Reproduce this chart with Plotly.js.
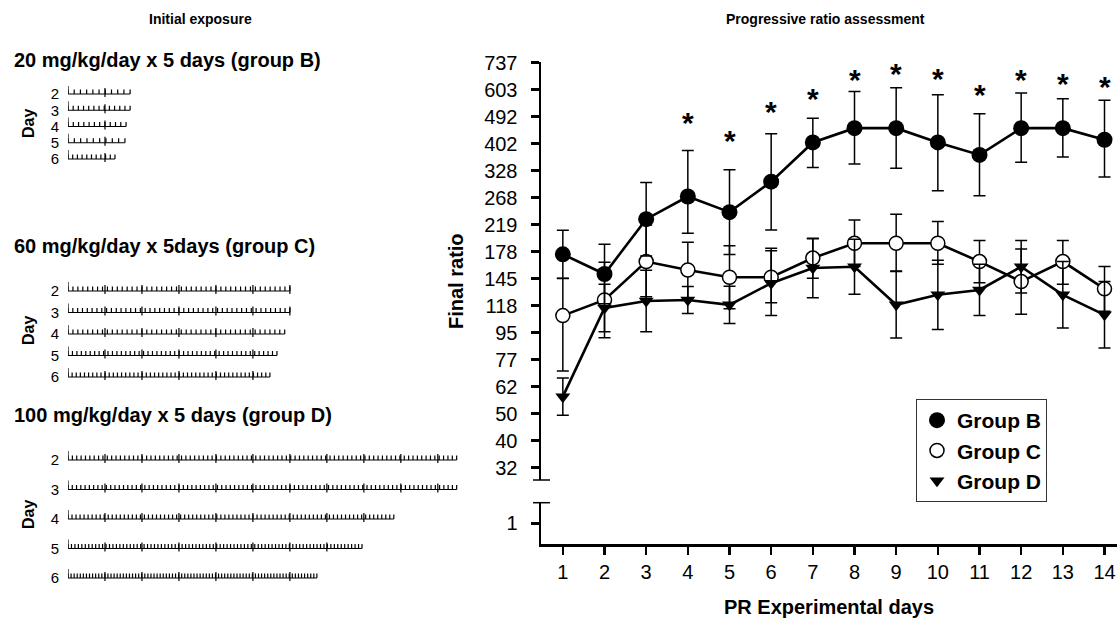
<!DOCTYPE html>
<html><head><meta charset="utf-8">
<script src="https://cdn.plot.ly/plotly-3.0.1.min.js"></script>
<style>html,body{margin:0;padding:0;background:#fff}#chart{width:1117px;height:619px}</style>
</head><body><div id="chart"></div>
<script>
// ---------------- DATA ----------------
// Progressive-ratio assessment: mean final ratio expressed as PR step on the ratio axis
const prDays = [1,2,3,4,5,6,7,8,9,10,11,12,13,14];
const groupBStep      = [17.90,17.17,19.20,20.04,19.46,20.59,22.04,22.57,22.57,22.04,21.58,22.57,22.57,22.14];
const groupBErrPlus   = [0.89,1.10,1.36,1.70,1.57,1.77,0.90,1.36,1.50,1.77,1.52,1.30,1.09,1.46];
const groupBErrMinus  = [0.89,1.10,1.36,1.36,1.57,1.79,0.93,1.33,1.48,1.79,1.51,1.26,1.07,1.38];
const groupCStep      = [15.63,16.21,17.63,17.32,17.05,17.05,17.76,18.31,18.31,18.31,17.63,16.89,17.63,16.62];
const groupCErrPlus   = [1.37,1.40,1.35,1.03,1.17,1.07,0.72,0.86,1.07,0.80,0.78,1.21,0.78,0.83];
const groupCErrMinus  = [2.05,1.40,1.30,1.03,1.17,0.94,0.75,0.86,1.03,0.78,0.78,1.21,0.84,0.83];
const groupDStep      = [12.63,15.91,16.17,16.21,16.03,16.83,17.39,17.44,16.03,16.40,16.58,17.44,16.40,15.66];
const groupDErr       = [0.69,0.88,1.14,0.50,0.69,1.20,1.10,1.02,1.23,1.28,0.95,0.97,1.23,1.23];
const ratioTickSteps  = [10,11,12,13,14,15,16,17,18,19,20,21,22,23,24,25];
const ratioTickLabels = ['32','40','50','62','77','95','118','145','178','219','268','328','402','492','603','737'];
const lowTickSteps    = [1];
const lowTickLabels   = ['1'];
const sigDays         = [4,5,6,7,8,9,10,11,12,13,14];
const sigStarStep     = [22.98,22.29,23.37,23.87,24.54,24.76,24.58,24.01,24.54,24.42,24.30];

// Initial exposure event records (days 2-6): infusions and session length (time-marker units)
const exposureDays      = [2,3,4,5,6];
const exposureDayLabels = ['2','3','4','5','6'];
const groupBInfusions   = [11,13,12,10,11];
const groupBSessionEnd  = [1.68,1.68,1.57,1.54,1.27];
const groupCInfusions   = [46,47,45,48,50];
const groupCSessionEnd  = [6.00,6.00,5.86,5.65,5.46];
const groupDInfusions   = [90,92,82,86,82];
const groupDSessionEnd  = [10.51,10.51,8.81,7.95,6.73];

// ---------------- STYLE / LAYOUT HELPERS ----------------
const FONT = 'Liberation Sans, Arial, sans-serif';
const W = 1117, H = 619;
const px = v => v / W;          // x pixel -> paper
const py = v => 1 - v / H;      // y pixel -> paper

function recordTrace(infusions, ends, pxPerDay, xa, ya) {
  const xs = [], ys = [];
  const small = 4.5 / pxPerDay, start = 9 / pxPerDay, up = 6 / pxPerDay, down = 3 / pxPerDay;
  exposureDays.forEach((d, i) => {
    const end = ends[i], n = infusions[i];
    xs.push(0, end, null); ys.push(d, d, null);
    xs.push(0, 0, null); ys.push(d, d - start, null);
    for (let k = 0; k < n; k++) {
      const t = end * k / (n - 1);
      xs.push(t, t, null); ys.push(d, d - small, null);
    }
    for (let m = 1; m <= end; m++) { xs.push(m, m, null); ys.push(d + down, d - up, null); }
  });
  return {x: xs, y: ys, mode: 'lines', line: {color: 'black', width: 1.2},
          xaxis: xa, yaxis: ya, showlegend: false, hoverinfo: 'skip'};
}

const traces = [];
// empty trace so the lower (broken) axis segment exists
traces.push({x: [], y: [], mode: 'markers', xaxis: 'x', yaxis: 'y2', showlegend: false, hoverinfo: 'skip'});
// connecting lines
[groupBStep, groupCStep, groupDStep].forEach(ys => {
  traces.push({x: prDays, y: ys, mode: 'lines', line: {color: 'black', width: 2.6},
               xaxis: 'x', yaxis: 'y', showlegend: false, hoverinfo: 'skip', cliponaxis: false});
});
const eb = (plus, minus) => ({type: 'data', symmetric: false, array: plus, arrayminus: minus,
                              color: 'black', thickness: 1.5, width: 6});
traces.push({x: prDays, y: groupCStep, mode: 'markers', name: 'Group C', legendrank: 2,
  marker: {symbol: 'circle', size: 14, color: 'white', line: {color: 'black', width: 1.5}},
  error_y: eb(groupCErrPlus, groupCErrMinus), xaxis: 'x', yaxis: 'y', cliponaxis: false});
traces.push({x: prDays, y: groupDStep, mode: 'markers', name: 'Group D', legendrank: 3,
  marker: {symbol: 'triangle-down', size: 13, color: 'black'},
  error_y: eb(groupDErr, groupDErr), xaxis: 'x', yaxis: 'y', cliponaxis: false});
traces.push({x: prDays, y: groupBStep, mode: 'markers', name: 'Group B', legendrank: 1,
  marker: {symbol: 'circle', size: 16, color: 'black'},
  error_y: eb(groupBErrPlus, groupBErrMinus), xaxis: 'x', yaxis: 'y', cliponaxis: false});

// event records
const pxPerDayB = 16.25, pxPerDayC = 21.5, pxPerDayD = 29.5;
traces.push(recordTrace(groupBInfusions, groupBSessionEnd, pxPerDayB, 'x2', 'y3'));
traces.push(recordTrace(groupCInfusions, groupCSessionEnd, pxPerDayC, 'x3', 'y4'));
traces.push(recordTrace(groupDInfusions, groupDSessionEnd, pxPerDayD, 'x4', 'y5'));

const recX = [px(68), px(460)];
const recRange = [0, 10.6];
const dayAxis = (top, bottom, anchor) => ({
  domain: [py(bottom), py(top)], range: [6.5, 1.5], anchor: anchor,
  tickvals: exposureDays, ticktext: exposureDayLabels, ticks: '', showline: false,
  showgrid: false, zeroline: false, tickfont: {family: FONT, size: 15, color: 'black'},
  ticklabelstandoff: 8
});
const recXAxis = anchor => ({domain: recX, range: recRange, anchor: anchor, visible: false});

const axFont = {family: FONT, size: 20, color: 'black'};
const ann = (text, x, y, size, extra) => Object.assign({text: text, xref: 'paper', yref: 'paper',
  x: px(x), y: py(y), xanchor: 'center', yanchor: 'middle', showarrow: false,
  font: {family: FONT, size: size, weight: 'bold', color: 'black'}}, extra || {});

const layout = {
  width: W, height: H,
  margin: {l: 0, r: 0, t: 0, b: 0},
  paper_bgcolor: 'white', plot_bgcolor: 'white',
  font: {family: FONT, color: 'black'},
  showlegend: true,
  legend: {x: px(916), y: py(399), xanchor: 'left', yanchor: 'top',
           bordercolor: '#333', borderwidth: 1, bgcolor: 'white',
           font: {family: FONT, size: 21, weight: 'bold', color: 'black'},
           traceorder: 'normal', itemwidth: 30},
  xaxis: {domain: [px(541), 1], range: [0.476, 14.3], anchor: 'y2',
          tickvals: prDays, ticks: 'outside', ticklen: 8, tickwidth: 2.5, tickcolor: 'black',
          showline: true, linewidth: 3, linecolor: 'black', showgrid: false, zeroline: false,
          tickfont: axFont, ticklabelstandoff: 0, ticklabeloverflow: 'allow',
          title: {text: 'PR Experimental days', font: {family: FONT, size: 20, weight: 'bold', color: 'black'}, standoff: 18}},
  yaxis: {domain: [py(480), py(61.7)], range: [9.544, 25.03], anchor: 'x',
          tickvals: ratioTickSteps, ticktext: ratioTickLabels, ticks: 'outside', ticklen: 8,
          tickwidth: 2.5, tickcolor: 'black', showline: true, linewidth: 2.5, linecolor: 'black',
          showgrid: false, zeroline: false, tickfont: axFont, ticklabelstandoff: 9},
  yaxis2: {domain: [py(544.3), py(502.7)], range: [0, 1.98], anchor: 'x',
          tickvals: lowTickSteps, ticktext: lowTickLabels, ticks: 'outside', ticklen: 8,
          tickwidth: 2.5, tickcolor: 'black', showline: true, linewidth: 2.5, linecolor: 'black',
          showgrid: false, zeroline: false, tickfont: axFont, ticklabelstandoff: 9},
  xaxis2: recXAxis('y3'), xaxis3: recXAxis('y4'), xaxis4: recXAxis('y5'),
  yaxis3: dayAxis(94 - pxPerDayB * 0.5, 159 + pxPerDayB * 0.5, 'x2'),
  yaxis4: dayAxis(291 - pxPerDayC * 0.5, 377 + pxPerDayC * 0.5, 'x3'),
  yaxis5: dayAxis(460 - pxPerDayD * 0.5, 578 + pxPerDayD * 0.5, 'x4'),
  shapes: [
    {type: 'line', xref: 'paper', yref: 'y domain', x0: px(533), x1: px(550), y0: 0, y1: 0, line: {color: 'black', width: 1.5}},
    {type: 'line', xref: 'paper', yref: 'y2 domain', x0: px(533), x1: px(550), y0: 1, y1: 1, line: {color: 'black', width: 1.5}}
  ],
  annotations: [
    ann('Initial exposure', 200, 19, 14),
    ann('Progressive ratio assessment', 825, 19, 14),
    ann('20 mg/kg/day x 5 days (group B)', 12, 60, 20, {xanchor: 'left'}),
    ann('60 mg/kg/day x 5days (group C)', 12, 246, 20, {xanchor: 'left'}),
    ann('100 mg/kg/day x 5 days (group D)', 12, 415, 20, {xanchor: 'left'}),
    ann('Day', 28, 124, 16, {textangle: -90}),
    ann('Day', 28, 331, 16, {textangle: -90}),
    ann('Day', 28, 515, 16, {textangle: -90}),
    ann('Final ratio', 456, 281, 20, {textangle: -90})
  ]
};
sigDays.forEach((d, i) => layout.annotations.push({
  text: '*', x: d, y: sigStarStep[i], xref: 'x', yref: 'y', xanchor: 'center', yanchor: 'middle',
  showarrow: false, yshift: -5,
  font: {family: FONT, size: 30, weight: 'bold', color: 'black'}
}));

Plotly.newPlot('chart', traces, layout, {staticPlot: true, displayModeBar: false});
</script></body></html>
